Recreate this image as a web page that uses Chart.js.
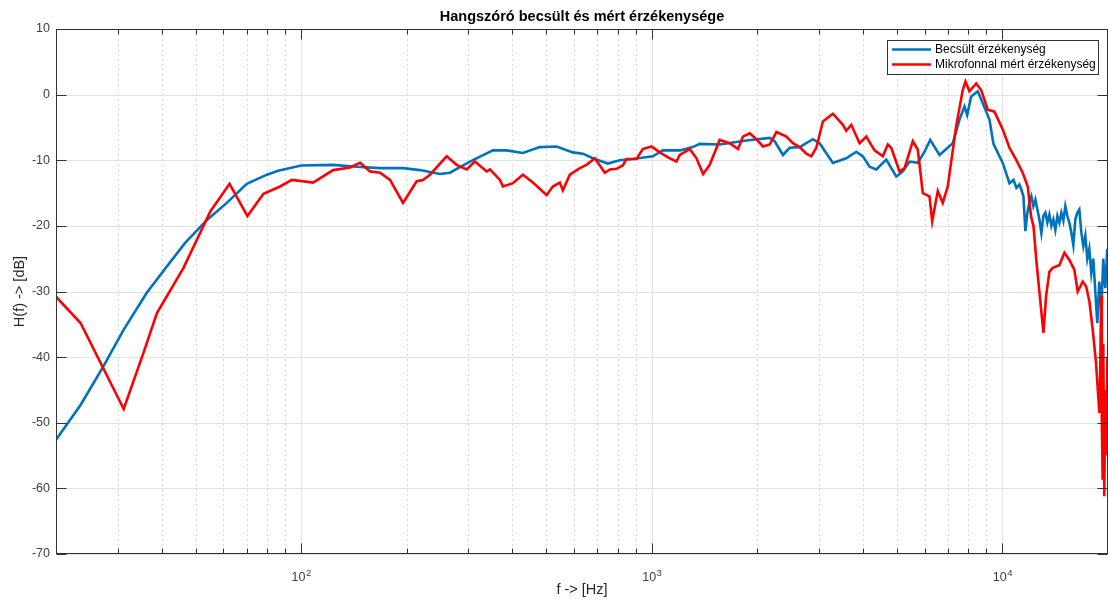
<!DOCTYPE html>
<html>
<head>
<meta charset="utf-8">
<script src="https://cdn.jsdelivr.net/npm/chart.js@4.4.1/dist/chart.umd.min.js"></script>
<style>
  html, body { margin: 0; padding: 0; background: #ffffff; }
  canvas { display: block; }
</style>
</head>
<body>
<canvas id="chart" width="1108" height="600"></canvas>
<script>
// Texts
const titleText = 'Hangszóró becsült és mért érzékenysége';
const xTitleText = 'f -> [Hz]';
const yTitleText = 'H(f) -> [dB]';
const seriesNames = ['Becsült érzékenység', 'Mikrofonnal mért érzékenység'];

// Axis ticks
const yTicks = [-70, -60, -50, -40, -30, -20, -10, 0, 10];
const xMajorTicks = [100, 1000, 10000];
const xMajorBase = '10';
const xMajorExponents = ['2', '3', '4'];
const xMinorTicks = [20, 30, 40, 50, 60, 70, 80, 90,
  200, 300, 400, 500, 600, 700, 800, 900,
  2000, 3000, 4000, 5000, 6000, 7000, 8000, 9000, 20000];

// Estimated sensitivity (Hz, dB)
const estFreq = [
  20, 23.5, 27.3, 31.2, 36.3, 41.4, 46.7, 53.9, 61.4, 70.0,
  79.9, 86.0, 100, 123.4, 144.1, 167.9, 195.3, 218.3, 248.9, 265.8,
  303.0, 352.4, 385.5, 429.1, 479.7, 535.2, 595.5, 636.0, 679.0, 749.0,
  810.4, 883.0, 1007, 1075, 1202, 1309, 1370, 1562, 1862, 2170,
  2241, 2367, 2473, 2641, 2759, 2881, 3010, 3285, 3586, 3830,
  4000, 4180, 4368, 4664, 4981, 5200, 5433, 5738, 5996, 6223,
  6615, 7218, 7542, 7793, 7933, 8144, 8504, 8788, 9183, 9428,
  10020, 10470, 10750, 10960,
  11178, 11326, 11476, 11627, 11780, 11936, 12093, 12253, 12415, 12579,
  12744, 12913, 13083, 13256, 13431, 13608, 13788, 13970, 14155, 14342,
  14531, 14723, 14917, 15114, 15314, 15516, 15721, 15928, 16139, 16352,
  16567, 16786, 17008, 17232, 17460, 17690, 17924, 18160, 18400, 18643,
  18889, 19139, 19391, 19647, 19907
];
const estDb = [
  -52.6, -47.3, -41.4, -35.8, -30.2, -26.2, -22.6, -19.1, -16.5, -13.6,
  -12.2, -11.6, -10.8, -10.7, -11.0, -11.2, -11.2, -11.5, -12.1, -11.9,
  -10.2, -8.5, -8.5, -8.9, -8.0, -7.9, -8.8, -9.0, -9.7, -10.5,
  -10.0, -9.8, -9.4, -8.5, -8.5, -8.0, -7.5, -7.6, -7.0, -6.6,
  -7.1, -9.2, -8.1, -8.0, -7.4, -6.8, -7.4, -10.4, -9.7, -8.7,
  -9.4, -11.0, -11.4, -9.9, -12.5, -11.7, -10.2, -10.4, -8.7, -6.9,
  -9.2, -7.4, -3.8, -1.8, -3.1, -0.3, 0.5, -1.3, -3.8, -7.5,
  -10.4, -13.5, -13.0, -14.2,
  -13.7, -14.5, -15.5, -20.8, -18.0, -16.5, -15.5, -17.0, -16.0, -17.5,
  -19.0, -21.1, -18.5, -18.0, -19.5, -18.3, -20.0, -19.0, -20.6, -18.5,
  -19.5, -18.0, -19.2, -17.0, -18.5, -19.5, -21.0, -22.9, -19.0, -18.0,
  -17.5, -21.0, -23.1, -21.5, -25.0, -23.5, -27.2, -25.0, -30.0, -34.8,
  -28.5, -33.0, -25.0, -29.5, -23.5
];

// Microphone-measured sensitivity (Hz, dB)
const micFreq = [
  20, 23.5, 31.2, 35.5, 38.8, 46.2, 55.1, 62.5, 70.3, 78.1,
  87.1, 94.1, 108.2, 123.4, 137.9, 147.3, 157.3, 167.9, 179.3, 195.3,
  213.6, 222.6, 233.1, 260.1, 277.7, 296.6, 313.1, 338.2, 345.6, 369.0,
  376.3, 401.8, 429.1, 458.1, 501.2, 522.4, 546.9, 557.8, 584.0, 623.6,
  651.6, 688.0, 734.6, 759.1, 793.2, 826.8, 847.0, 904.7, 942.8, 998,
  1054, 1125, 1176, 1202, 1283, 1341, 1401, 1463, 1562, 1668,
  1762, 1820, 1902, 1988, 2076, 2170, 2267, 2420, 2527, 2641,
  2759, 2851, 2946, 3076, 3285, 3508, 3586, 3706, 3914, 4090,
  4318, 4560, 4712, 4818, 5089, 5258, 5552, 5738, 5928, 6194,
  6305, 6541, 6758, 6984, 7380, 7706, 7844, 8054, 8415, 8695,
  9079, 9489, 10020, 10470, 10940, 11420, 11810, 12070, 12260, 12500,
  13090, 13320, 13610, 13910, 14530, 15020, 15520, 16040, 16390, 16940,
  17320, 17700, 18090, 18490, 18650, 18900, 19010, 19110, 19210, 19310,
  19390, 19520, 19650, 19780, 19920
];
const micDb = [
  -30.8, -34.8, -47.9, -39.4, -33.3, -26.4, -17.8, -13.6, -18.5, -15.1,
  -14.0, -13.0, -13.4, -11.5, -11.1, -10.4, -11.7, -11.9, -13.0, -16.5,
  -13.2, -13.0, -12.2, -9.4, -10.7, -11.4, -10.2, -11.7, -11.4, -13.0,
  -14.0, -13.5, -12.2, -13.4, -15.3, -14.0, -13.4, -14.6, -12.2, -11.2,
  -10.7, -9.7, -11.9, -11.4, -11.3, -10.8, -9.8, -9.8, -8.3, -7.9,
  -8.8, -9.7, -10.2, -9.2, -8.3, -9.7, -12.1, -10.7, -6.9, -7.4,
  -8.3, -6.4, -5.9, -6.8, -7.9, -7.6, -5.7, -6.4, -7.4, -8.0,
  -9.0, -9.4, -8.1, -4.1, -2.9, -4.6, -5.5, -4.6, -7.4, -6.4,
  -8.5, -9.4, -7.6, -8.1, -11.7, -11.2, -7.1, -8.4, -15.0, -15.5,
  -19.3, -14.7, -16.5, -14.0, -4.8, 0.7, 2.0, 0.5, 1.7, 0.7,
  -2.3, -2.6, -5.3, -8.1, -9.9, -11.9, -14.0, -18.6, -20.0, -25.4,
  -36.3, -30.7, -27.0, -26.4, -26.0, -24.1, -25.2, -26.7, -30.0, -28.5,
  -29.2, -31.5, -35.8, -40.9, -44.0, -48.5, -42.0, -30.7, -50.0, -58.7,
  -38.0, -61.2, -45.0, -55.0, -40.0
];

const FONT = "'Liberation Sans', Arial, Helvetica, sans-serif";
const estColor = '#0072BD';
const micColor = '#FF0000';

function toPoints(freq, db) {
  const n = Math.min(freq.length, db.length);
  const pts = [];
  for (let i = 0; i < n; i++) pts.push({ x: freq[i], y: db[i] });
  return pts;
}

// Grid, boxed frame with inward ticks, title, decade labels and legend
const axesFrame = {
  id: 'axesFrame',
  beforeDatasetsDraw(chart) {
    const { ctx, chartArea: a, scales: { x, y } } = chart;
    const seg = (x1, y1, x2, y2) => { ctx.beginPath(); ctx.moveTo(x1, y1); ctx.lineTo(x2, y2); ctx.stroke(); };
    ctx.save();
    ctx.lineWidth = 1;
    ctx.strokeStyle = '#dadada';
    ctx.setLineDash([2, 3]);
    xMinorTicks.forEach(v => {
      const px = Math.round(x.getPixelForValue(v)) + 0.5;
      seg(px, a.top, px, a.bottom);
    });
    ctx.setLineDash([]);
    ctx.strokeStyle = '#e1e1e1';
    xMajorTicks.forEach(v => {
      const px = Math.round(x.getPixelForValue(v)) + 0.5;
      seg(px, a.top, px, a.bottom);
    });
    yTicks.forEach(v => {
      const py = Math.round(y.getPixelForValue(v)) + 0.5;
      seg(a.left, py, a.right, py);
    });
    ctx.restore();
  },
  afterDatasetsDraw(chart) {
    const { ctx, chartArea: a, scales: { x, y } } = chart;
    const seg = (x1, y1, x2, y2) => { ctx.beginPath(); ctx.moveTo(x1, y1); ctx.lineTo(x2, y2); ctx.stroke(); };
    ctx.save();
    ctx.lineWidth = 1;
    ctx.strokeStyle = '#333333';
    const L = Math.round(a.left) + 0.5, R = Math.round(a.right) - 0.5;
    const T = Math.round(a.top) + 0.5, B = Math.round(a.bottom) - 0.5;
    ctx.strokeRect(L, T, R - L, B - T);
    const major = 10, minor = 5;
    xMajorTicks.forEach(v => {
      const px = Math.round(x.getPixelForValue(v)) + 0.5;
      seg(px, B, px, B - major);
      seg(px, T, px, T + major);
    });
    xMinorTicks.forEach(v => {
      const px = Math.round(x.getPixelForValue(v)) + 0.5;
      seg(px, B, px, B - minor);
      seg(px, T, px, T + minor);
    });
    yTicks.forEach(v => {
      const py = Math.round(y.getPixelForValue(v)) + 0.5;
      seg(L, py, L + major, py);
      seg(R, py, R - major, py);
    });

    // decade labels: base with raised exponent
    ctx.fillStyle = '#404040';
    ctx.textBaseline = 'alphabetic';
    ctx.textAlign = 'left';
    xMajorTicks.forEach((v, i) => {
      const px = x.getPixelForValue(v);
      ctx.font = '12.5px ' + FONT;
      const w1 = ctx.measureText(xMajorBase).width;
      ctx.font = '9.5px ' + FONT;
      const w2 = ctx.measureText(xMajorExponents[i]).width;
      const x0 = px - (w1 + w2) / 2;
      ctx.font = '12.5px ' + FONT;
      ctx.fillText(xMajorBase, x0, a.bottom + 27);
      ctx.font = '9.5px ' + FONT;
      ctx.fillText(xMajorExponents[i], x0 + w1 + 0.5, a.bottom + 22);
    });

    // title centred over the plot area
    ctx.fillStyle = '#000000';
    ctx.textAlign = 'center';
    ctx.textBaseline = 'middle';
    ctx.font = 'bold 14.5px ' + FONT;
    ctx.fillText(titleText, (a.left + a.right) / 2, 16.5);
    ctx.restore();
  },
  afterDraw(chart) {
    const { ctx } = chart;
    const ds = chart.data.datasets;
    const bx = 887.5, by = 40.5, bw = 211, bh = 34;
    ctx.save();
    ctx.fillStyle = '#ffffff';
    ctx.fillRect(bx, by, bw, bh);
    ctx.lineWidth = 1;
    ctx.strokeStyle = '#333333';
    ctx.strokeRect(bx, by, bw, bh);
    ctx.font = '12px ' + FONT;
    ctx.textBaseline = 'middle';
    ctx.textAlign = 'left';
    ds.forEach((d, i) => {
      const ly = by + 9 + i * 15;
      ctx.strokeStyle = d.borderColor;
      ctx.lineWidth = d.borderWidth;
      ctx.beginPath();
      ctx.moveTo(892, ly);
      ctx.lineTo(931, ly);
      ctx.stroke();
      ctx.fillStyle = '#000000';
      ctx.fillText(d.label, 935, ly + 0.5);
    });
    ctx.restore();
  }
};

new Chart(document.getElementById('chart').getContext('2d'), {
  type: 'line',
  data: {
    datasets: [
      { label: seriesNames[0], data: toPoints(estFreq, estDb), borderColor: estColor,
        borderWidth: 2.6, pointRadius: 0, tension: 0, fill: false, order: 1 },
      { label: seriesNames[1], data: toPoints(micFreq, micDb), borderColor: micColor,
        borderWidth: 2.6, pointRadius: 0, tension: 0, fill: false, order: 0 }
    ]
  },
  options: {
    animation: false,
    responsive: false,
    devicePixelRatio: 1,
    parsing: false,
    normalized: true,
    layout: { padding: { left: 0, right: 0, top: 29, bottom: 0 } },
    plugins: {
      legend: { display: false },
      tooltip: { enabled: false },
      title: { display: false }
    },
    scales: {
      x: {
        type: 'logarithmic', min: 20, max: 20000,
        grid: { display: false, drawTicks: false },
        border: { display: false },
        ticks: { display: false },
        afterBuildTicks: (s) => { s.ticks = xMajorTicks.map(v => ({ value: v })); },
        afterFit: (s) => { s.height = 46; },
        title: {
          display: true, text: xTitleText, color: '#262626',
          font: { family: FONT, size: 14.5 }, padding: { top: 0, bottom: 1 }
        }
      },
      y: {
        type: 'linear', min: -70, max: 10,
        grid: { display: false, drawTicks: false },
        border: { display: false },
        ticks: { padding: 6, color: '#404040', font: { family: FONT, size: 12.5 } },
        afterBuildTicks: (s) => { s.ticks = yTicks.map(v => ({ value: v })); },
        afterFit: (s) => { s.width = 56; },
        title: {
          display: true, text: yTitleText, color: '#262626',
          font: { family: FONT, size: 14.5 }, padding: { top: 11, bottom: 0 }
        }
      }
    }
  },
  plugins: [axesFrame]
});
</script>
</body>
</html>
